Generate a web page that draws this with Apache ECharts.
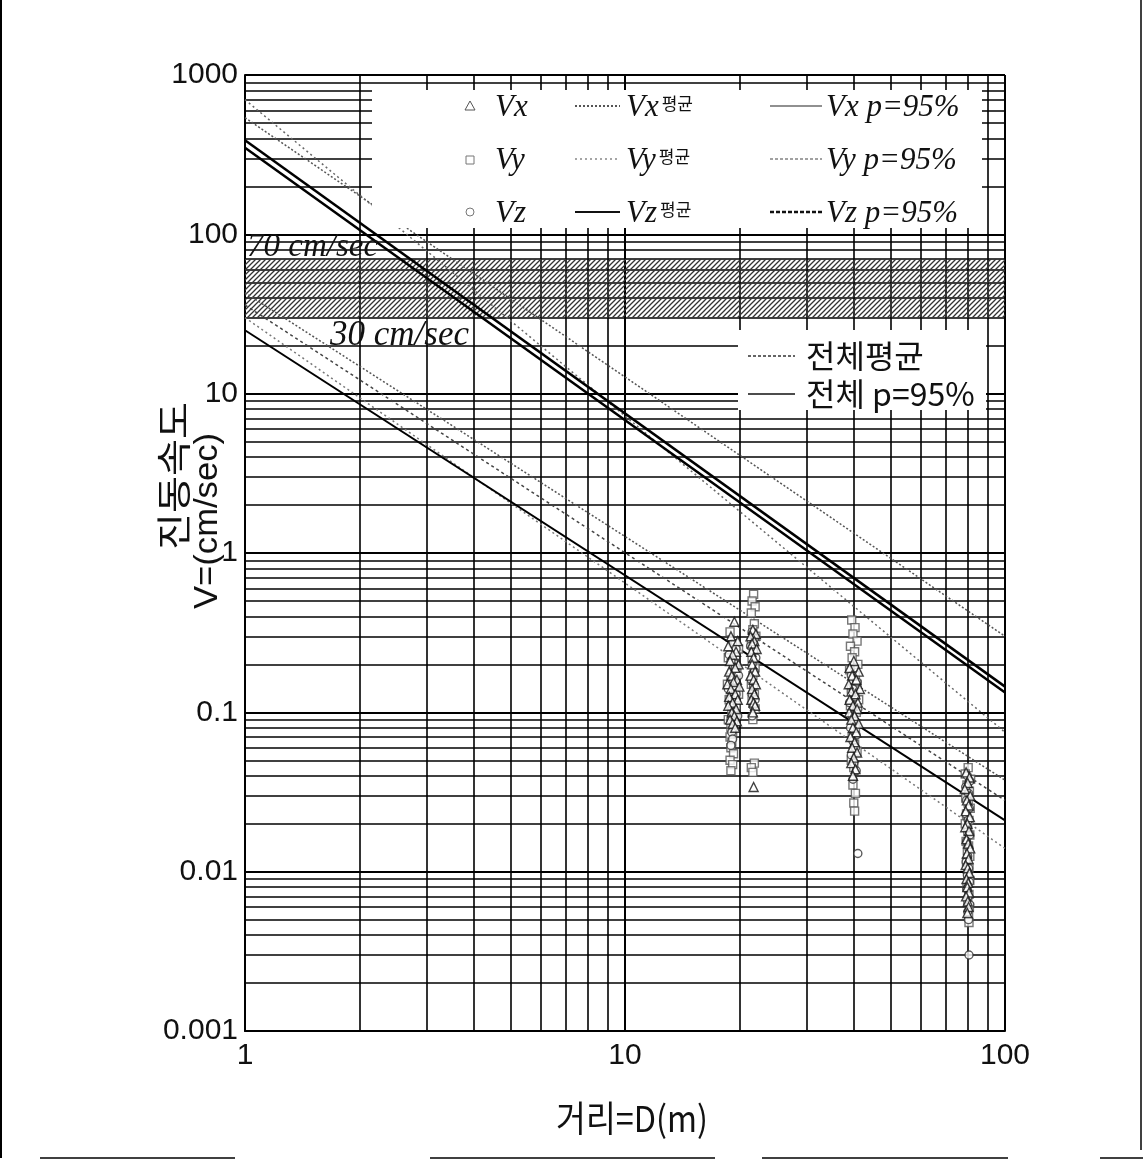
<!DOCTYPE html>
<html>
<head>
<meta charset="utf-8">
<script src="https://cdn.jsdelivr.net/npm/echarts@6/dist/echarts.min.js"></script>
<style>
  html, body { margin: 0; padding: 0; background: #fff; }
  #chart { width: 1143px; height: 1171px; }
</style>
</head>
<body>
<div id="chart"></div>
<script>
// values (log-log, D in m, V in cm/sec)
const xRange = [1, 100];
const yRange = [0.001, 1000];
const bandLimits = [30, 70];

// measured points  [D, V]
const vxPts = [
  [19.4,0.37],[19.0,0.3],[19.8,0.28],[18.7,0.26],[19.6,0.24],[19.2,0.23],[18.9,0.21],[19.9,0.2],
  [19.5,0.19],[18.8,0.18],[19.1,0.17],[19.7,0.16],[19.3,0.155],[18.6,0.15],[20.0,0.145],[19.0,0.14],
  [19.5,0.13],[18.8,0.125],[19.8,0.12],[19.2,0.115],[18.7,0.11],[19.6,0.105],[19.1,0.1],[19.4,0.095],
  [18.9,0.09],[19.7,0.088],[19.2,0.085],[19.5,0.08],
  [21.7,0.33],[22.1,0.31],[21.4,0.3],[21.9,0.28],[21.6,0.27],[22.2,0.25],[21.5,0.24],[21.8,0.22],
  [21.6,0.2],[22.0,0.18],[21.4,0.17],[21.8,0.16],[22.1,0.15],[21.6,0.14],[21.9,0.13],[21.5,0.12],
  [21.8,0.115],[22.0,0.11],[21.7,0.1],[21.8,0.034],
  [40.0,0.21],[39.0,0.19],[41.2,0.18],[39.6,0.17],[40.6,0.16],[38.8,0.15],[41.5,0.14],[39.4,0.135],
  [40.4,0.13],[39.0,0.12],[41.0,0.115],[39.8,0.11],[40.8,0.105],[38.9,0.1],[40.2,0.095],[39.4,0.09],
  [41.2,0.085],[39.8,0.08],[40.6,0.075],[39.2,0.07],[40.2,0.065],[39.6,0.06],[40.8,0.056],[40.0,0.052],
  [39.4,0.048],[40.4,0.044],[39.8,0.04],
  [79.0,0.042],[80.6,0.039],[79.8,0.036],[78.4,0.033],[81.0,0.03],[79.4,0.028],[80.2,0.026],[78.8,0.024],
  [80.8,0.022],[79.6,0.02],[78.6,0.019],[80.4,0.018],[79.2,0.016],[80.0,0.015],[81.0,0.014],[79.4,0.013],
  [80.2,0.012],[78.8,0.011],[79.8,0.0105],[80.6,0.0098],[79.2,0.009],[80.0,0.0085],[79.6,0.008],
  [80.4,0.0074],[79.0,0.007],[79.8,0.0065],[80.2,0.006],[79.6,0.0055]
];
const vyPts = [
  [18.9,0.32],[19.5,0.27],[19.9,0.25],[18.7,0.22],[19.3,0.2],[19.7,0.18],[19.0,0.165],[18.6,0.15],
  [19.4,0.14],[19.9,0.13],[18.8,0.12],[19.6,0.11],[19.1,0.1],[19.5,0.095],[18.7,0.09],[19.3,0.085],
  [19.0,0.08],[19.2,0.075],[18.9,0.07],[19.1,0.065],[19.0,0.06],[19.3,0.055],[18.9,0.05],[19.2,0.047],
  [19.0,0.043],
  [21.8,0.55],[21.6,0.5],[22.0,0.46],[21.5,0.42],[21.9,0.36],[21.7,0.33],[22.1,0.3],[21.5,0.28],
  [21.8,0.26],[21.6,0.22],[22.0,0.19],[21.7,0.17],[21.5,0.15],[21.9,0.13],[21.6,0.12],[22.0,0.105],
  [21.7,0.09],[21.9,0.048],[21.5,0.045],[21.7,0.042],
  [39.5,0.38],[40.3,0.34],[39.8,0.31],[40.8,0.28],[39.2,0.26],[40.2,0.24],[39.6,0.22],[41.0,0.2],
  [39.0,0.185],[40.4,0.17],[39.8,0.16],[40.8,0.15],[39.4,0.14],[40.0,0.13],[41.2,0.12],[39.2,0.11],
  [40.6,0.1],[39.8,0.09],[40.4,0.08],[39.6,0.07],[40.2,0.063],[40.8,0.057],[39.4,0.05],[40.0,0.045],
  [39.8,0.035],[40.4,0.031],[40.0,0.027],[40.2,0.024],
  [80.0,0.045],[78.6,0.041],[81.2,0.038],[79.4,0.035],[80.6,0.032],[78.8,0.029],[80.0,0.027],[81.0,0.025],
  [79.2,0.023],[80.4,0.021],[78.6,0.02],[79.8,0.018],[80.8,0.017],[79.0,0.0155],[80.2,0.0145],
  [79.6,0.0135],[80.8,0.0125],[79.2,0.0115],[80.4,0.0105],[79.8,0.0096],[80.8,0.0088],[79.4,0.008],
  [80.4,0.0072],[79.8,0.0066],[80.6,0.006],[80.2,0.0052],[80.4,0.0048]
];
const vzPts = [
  [19.2,0.27],[19.6,0.25],[18.8,0.23],[19.0,0.21],[19.5,0.19],[19.9,0.17],[19.3,0.16],[18.7,0.14],
  [19.6,0.13],[19.1,0.12],[18.9,0.11],[19.4,0.1],[19.8,0.095],[19.0,0.09],[19.3,0.08],[19.1,0.075],
  [19.2,0.068],[19.0,0.062],
  [21.6,0.32],[21.9,0.29],[21.4,0.26],[21.8,0.24],[22.1,0.22],[21.6,0.2],[21.9,0.18],[21.5,0.16],
  [21.8,0.145],[21.6,0.13],[22.0,0.12],[21.7,0.11],[21.6,0.095],
  [40.2,0.19],[39.4,0.17],[40.8,0.155],[39.8,0.14],[40.4,0.125],[39.0,0.115],[41.0,0.105],[39.6,0.095],
  [40.2,0.088],[39.2,0.08],[40.6,0.072],[39.8,0.066],[40.4,0.06],[39.4,0.054],[40.0,0.048],[40.6,0.043],
  [39.8,0.038],[41.0,0.013],
  [79.6,0.04],[80.8,0.037],[78.8,0.034],[80.2,0.031],[79.2,0.028],[80.6,0.025],[79.0,0.023],[80.0,0.021],
  [79.6,0.019],[80.8,0.017],[79.2,0.0155],[80.4,0.014],[79.8,0.0125],[79.0,0.0115],[80.2,0.0105],
  [79.6,0.0095],[80.6,0.0086],[79.4,0.0078],[80.0,0.007],[80.8,0.0062],[79.8,0.0056],[80.2,0.005],
  [80.4,0.003]
];

// fitted attenuation lines, end points at D=1 and D=100
const vxMean = [[1, 43], [100, 0.0375]];
const vyMean = [[1, 30], [100, 0.014]];
const vzMean = [[1, 25], [100, 0.021]];
const vxP95 = [[1, 540], [100, 0.3]];
const vyP95 = [[1, 700], [100, 0.075]];
const vzP95 = [[1, 390], [100, 0.145]];
const allMean = [[1, 36], [100, 0.028]];
const allP95 = [[1, 350], [100, 0.133]];

// hatch for the 30-70 cm/sec band
const hatch = document.createElement('canvas');
hatch.width = 5; hatch.height = 5;
const hc = hatch.getContext('2d');
hc.strokeStyle = '#333';
hc.lineWidth = 1.3;
hc.beginPath();
hc.moveTo(0, 5); hc.lineTo(5, 0);
hc.moveTo(-1, 1); hc.lineTo(1, -1);
hc.moveTo(4, 6); hc.lineTo(6, 4);
hc.stroke();

const chart = echarts.init(document.getElementById('chart'));

function lineSeries(name, data, color, width, type, extra) {
  return Object.assign({
    name: name,
    type: 'line',
    data: data,
    showSymbol: false,
    silent: true,
    z: 3,
    lineStyle: { color: color, width: width, type: type }
  }, extra || {});
}

function ptSeries(name, data, symbol, size, edge) {
  return {
    name: name,
    type: 'scatter',
    data: data,
    symbol: symbol,
    symbolSize: size,
    z: 4,
    itemStyle: { color: '#fff', borderColor: edge, borderWidth: 1.4 }
  };
}

const serif = 'Liberation Serif';
const sans = 'Liberation Sans';
const kr = 'Noto Sans CJK KR';

function legText(x, y, txt) {
  return { type: 'text', x: x, y: y, z: 11,
    style: { text: txt, fontStyle: 'italic', fontSize: 31, fontFamily: serif, fill: '#111', verticalAlign: 'middle' } };
}
function meanText(x, y, v) {
  return { type: 'text', x: x, y: y, z: 11,
    style: {
      text: '{v|' + v + '}{k|평균}', verticalAlign: 'middle',
      rich: {
        v: { fontStyle: 'italic', fontSize: 31, fontFamily: serif, fill: '#111' },
        k: { fontSize: 17, fontFamily: kr, fill: '#111', padding: [0, 0, 8, 3] }
      }
    } };
}
function hline(x1, x2, y, color, w, dash) {
  return { type: 'line', z: 11, shape: { x1: x1, y1: y, x2: x2, y2: y },
    style: { stroke: color, lineWidth: w, lineDash: dash || null } };
}
const tickText = function (v) { return String(+Number(v).toPrecision(6)); };

const option = {
  backgroundColor: '#fff',
  animation: false,
  grid: { left: 245, right: 138, top: 75, bottom: 140 },
  xAxis: {
    type: 'log', logBase: 10, min: xRange[0], max: xRange[1],
    axisLine: { show: true, lineStyle: { color: '#000', width: 2 } },
    axisTick: { show: false },
    axisLabel: { fontSize: 30, color: '#111', fontFamily: sans, margin: 10, formatter: tickText },
    splitLine: { show: true, lineStyle: { color: '#000', width: 2 } },
    minorTick: { show: false, splitNumber: 9 },
    minorSplitLine: { show: true, lineStyle: { color: '#000', width: 1.6 } }
  },
  yAxis: {
    type: 'log', logBase: 10, min: yRange[0], max: yRange[1],
    axisLine: { show: true, lineStyle: { color: '#000', width: 2 } },
    axisTick: { show: false },
    axisLabel: { fontSize: 30, color: '#111', fontFamily: sans, margin: 7, formatter: tickText },
    splitLine: { show: true, lineStyle: { color: '#000', width: 2 } },
    minorTick: { show: false, splitNumber: 9 },
    minorSplitLine: { show: true, lineStyle: { color: '#000', width: 1.6 } }
  },
  series: [
    lineSeries('전체평균', allMean, '#444', 1.5, [3, 3], {
      markArea: {
        silent: true,
        itemStyle: { color: { image: hatch, repeat: 'repeat' } },
        data: [[{ yAxis: bandLimits[0] }, { yAxis: bandLimits[1] }]]
      }
    }),
    lineSeries('Vx 평균', vxMean, '#555', 1.5, [2, 2]),
    lineSeries('Vy 평균', vyMean, '#777', 1.5, [2, 3]),
    lineSeries('Vz 평균', vzMean, '#000', 2, 'solid'),
    lineSeries('Vx p=95%', vxP95, '#555', 1.5, [2, 2]),
    lineSeries('Vy p=95%', vyP95, '#666', 1.5, [2, 3]),
    lineSeries('Vz p=95%', vzP95, '#000', 2.5, 'solid'),
    lineSeries('전체 p=95%', allP95, '#000', 2.5, 'solid'),
    ptSeries('Vy', vyPts, 'rect', 8, '#555'),
    ptSeries('Vz', vzPts, 'circle', 8, '#333'),
    ptSeries('Vx', vxPts, 'triangle', 9, '#111')
  ],
  graphic: [
    // outer frame of the scanned figure
    { type: 'line', shape: { x1: 1, y1: 0, x2: 1, y2: 1158 }, style: { stroke: '#000', lineWidth: 2 } },
    { type: 'line', shape: { x1: 1141, y1: 0, x2: 1141, y2: 1150 }, style: { stroke: '#000', lineWidth: 1.5 } },
    { type: 'line', shape: { x1: 40, y1: 1158, x2: 235, y2: 1158 }, style: { stroke: '#000', lineWidth: 1.5 } },
    { type: 'line', shape: { x1: 430, y1: 1158, x2: 715, y2: 1158 }, style: { stroke: '#000', lineWidth: 1.5 } },
    { type: 'line', shape: { x1: 762, y1: 1158, x2: 1008, y2: 1158 }, style: { stroke: '#000', lineWidth: 1.5 } },
    { type: 'line', shape: { x1: 1100, y1: 1158, x2: 1143, y2: 1158 }, style: { stroke: '#000', lineWidth: 1.5 } },

    // axis titles
    { type: 'text', x: 174, y: 476, rotation: Math.PI / 2, scaleX: 1.15, z: 20,
      style: { text: '진동속도', fontSize: 35, fontFamily: kr, fill: '#111', align: 'center', verticalAlign: 'middle' } },
    { type: 'text', x: 208, y: 521, rotation: Math.PI / 2, scaleX: 1.05, z: 20,
      style: { text: 'V=(cm/sec)', fontSize: 33, fontFamily: sans, fill: '#111', align: 'center', verticalAlign: 'middle' } },
    { type: 'text', x: 632, y: 1118, scaleX: 0.9, z: 20,
      style: { text: '거리=D(m)', fontSize: 36, fontFamily: kr, fill: '#111', align: 'center', verticalAlign: 'middle' } },

    // band labels
    { type: 'text', x: 247, y: 247, z: 20,
      style: { text: '70 cm/sec', fontStyle: 'italic', fontSize: 33, fontFamily: serif, fill: '#111', verticalAlign: 'middle' } },
    { type: 'text', x: 330, y: 336, z: 20,
      style: { text: '30 cm/sec', fontStyle: 'italic', fontSize: 35, fontFamily: serif, fill: '#111', verticalAlign: 'middle' } },

    // legend box 1
    { type: 'rect', shape: { x: 372, y: 90, width: 610, height: 138 }, style: { fill: '#fff' }, z: 10 },
    { type: 'polygon', shape: { points: [[470, 101], [475, 110], [465, 110]] }, style: { fill: '#fff', stroke: '#555', lineWidth: 1 }, z: 11 },
    { type: 'rect', shape: { x: 466, y: 156, width: 8, height: 8 }, style: { fill: '#fff', stroke: '#777', lineWidth: 1 }, z: 11 },
    { type: 'circle', shape: { cx: 470, cy: 212, r: 4 }, style: { fill: '#fff', stroke: '#777', lineWidth: 1 }, z: 11 },
    legText(495, 108, 'Vx'),
    legText(495, 161, 'Vy'),
    legText(495, 214, 'Vz'),
    hline(575, 620, 106, '#555', 2, [2, 2]),
    hline(575, 620, 159, '#888', 1.5, [2, 3]),
    hline(575, 620, 212, '#111', 2),
    meanText(626, 108, 'Vx'),
    meanText(626, 161, 'Vy'),
    meanText(626, 214, 'Vz'),
    hline(770, 822, 106, '#222', 1.2),
    hline(770, 822, 159, '#444', 1.2, [3, 2]),
    hline(770, 822, 212, '#111', 2.5, [4, 2]),
    legText(826, 108, 'Vx p=95%'),
    legText(826, 161, 'Vy p=95%'),
    legText(826, 214, 'Vz p=95%'),

    // legend box 2
    { type: 'rect', shape: { x: 738, y: 330, width: 248, height: 80 }, style: { fill: '#fff' }, z: 10 },
    hline(748, 795, 356, '#333', 1.5, [3, 2]),
    hline(748, 795, 394, '#111', 1.5),
    { type: 'text', x: 806, y: 356, z: 11, style: { text: '전체평균', fontSize: 32, fontFamily: kr, fill: '#111', verticalAlign: 'middle' } },
    { type: 'text', x: 806, y: 394, z: 11, style: { text: '전체 p=95%', fontSize: 32, fontFamily: kr, fill: '#111', verticalAlign: 'middle' } }
  ]
};

chart.setOption(option);
</script>
</body>
</html>
